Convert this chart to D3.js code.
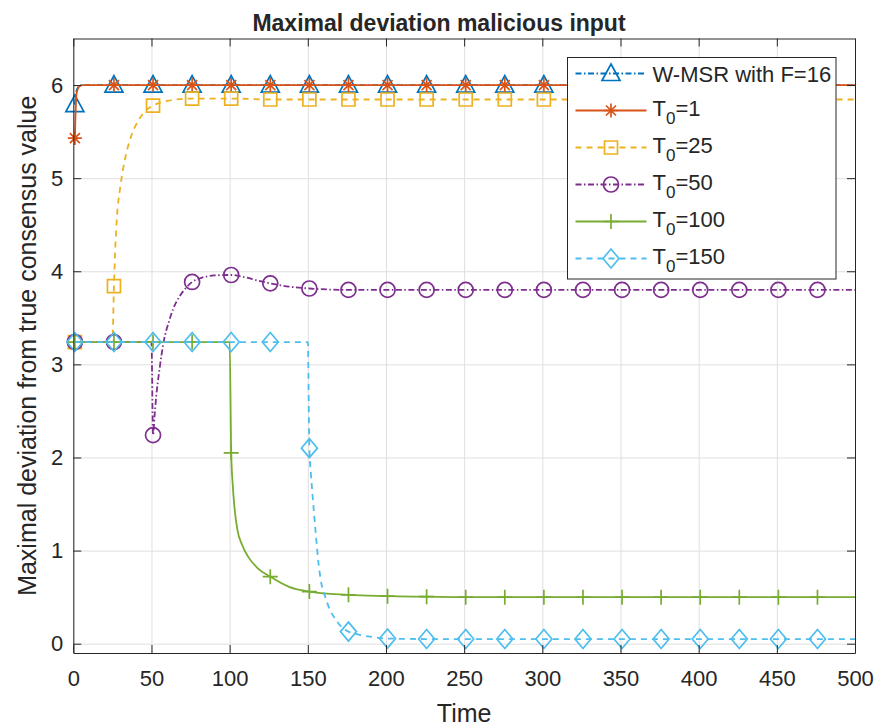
<!DOCTYPE html>
<html>
<head>
<meta charset="utf-8">
<script src="https://cdn.jsdelivr.net/npm/d3@7"></script>
<style>
  body { margin: 0; background: #fff; }
  text { font-family: "Liberation Sans", Arial, Helvetica, sans-serif; fill: #262626; }
</style>
</head>
<body>
<div id="chart"></div>
<script>
const W = 877, H = 726;
const margin = { top: 38.5, right: 22, bottom: 73, left: 73.3 };
const width = W - margin.left - margin.right,
  height = H - margin.top - margin.bottom;

// data: [time, value]
const markerTimes = [1, 26, 51, 76, 101, 126, 151, 176, 201, 226, 251, 276, 301, 326, 351, 376, 401, 426, 451, 476];
const xTicks = [0, 50, 100, 150, 200, 250, 300, 350, 400, 450, 500];
const yTicks = [0, 1, 2, 3, 4, 5, 6];

const wmsr = [[1, 5.79], [2, 5.93], [3, 5.975], [5, 6.0], [26, 6.0], [51, 6.0], [76, 6.0], [101, 6.0], [126, 6.0], [151, 6.0], [176, 6.0], [201, 6.0], [226, 6.0], [251, 6.0], [276, 6.0], [301, 6.0], [326, 6.0], [351, 6.0], [376, 6.0], [401, 6.0], [426, 6.0], [451, 6.0], [476, 6.0], [500, 6.0]];
const t0_1 = [[1, 5.43], [2, 5.9], [3, 5.96], [4, 5.985], [6, 6.0], [26, 6.0], [51, 6.0], [76, 6.0], [101, 6.0], [126, 6.0], [151, 6.0], [176, 6.0], [201, 6.0], [226, 6.0], [251, 6.0], [276, 6.0], [301, 6.0], [326, 6.0], [351, 6.0], [376, 6.0], [401, 6.0], [426, 6.0], [451, 6.0], [476, 6.0], [500, 6.0]];
const t0_25 = [[1, 3.24], [25, 3.24], [26, 3.84], [27, 4.3], [28, 4.6], [30, 4.9], [33, 5.2], [37, 5.45], [42, 5.63], [46, 5.72], [51, 5.78], [60, 5.83], [76, 5.855], [101, 5.855], [126, 5.845], [151, 5.845], [176, 5.845], [201, 5.845], [226, 5.845], [251, 5.845], [276, 5.845], [301, 5.845], [326, 5.845], [351, 5.845], [376, 5.845], [401, 5.845], [426, 5.845], [451, 5.845], [476, 5.845], [500, 5.845]];
const t0_50 = [[1, 3.24], [26, 3.24], [50, 3.24], [51, 2.24], [52, 2.45], [53, 2.65], [55, 2.93], [58, 3.26], [61, 3.45], [64, 3.6], [68, 3.73], [72, 3.82], [76, 3.885], [82, 3.93], [90, 3.955], [101, 3.96], [110, 3.935], [118, 3.9], [126, 3.87], [138, 3.835], [151, 3.815], [176, 3.8], [201, 3.8], [226, 3.8], [251, 3.8], [276, 3.8], [301, 3.8], [326, 3.8], [351, 3.8], [376, 3.8], [401, 3.8], [426, 3.8], [451, 3.8], [476, 3.8], [500, 3.8]];
const t0_100 = [[1, 3.24], [26, 3.24], [51, 3.24], [76, 3.24], [100, 3.24], [101, 2.05], [102, 1.7], [103, 1.48], [105, 1.22], [108, 1.06], [112, 0.93], [118, 0.81], [126, 0.72], [138, 0.61], [151, 0.56], [165, 0.535], [176, 0.525], [201, 0.51], [226, 0.505], [251, 0.5], [276, 0.5], [301, 0.5], [326, 0.5], [351, 0.5], [376, 0.5], [401, 0.5], [426, 0.5], [451, 0.5], [476, 0.5], [500, 0.5]];
const t0_150 = [[1, 3.24], [26, 3.24], [51, 3.24], [76, 3.24], [101, 3.24], [126, 3.24], [150, 3.24], [151, 2.1], [152, 1.82], [153, 1.6], [155, 1.2], [157, 0.84], [159, 0.62], [161, 0.51], [164, 0.37], [167, 0.28], [171, 0.19], [176, 0.13], [182, 0.1], [190, 0.075], [201, 0.055], [226, 0.05], [251, 0.05], [276, 0.05], [301, 0.05], [326, 0.05], [351, 0.05], [376, 0.05], [401, 0.05], [426, 0.05], [451, 0.05], [476, 0.05], [500, 0.05]];

const series = [
  { name: "W-MSR with F=16", data: wmsr, color: "#0072BD", dash: "6,2.5,1.5,2.5", marker: "triangle" },
  { name: "1", data: t0_1, color: "#D95319", dash: null, marker: "asterisk" },
  { name: "25", data: t0_25, color: "#EDB120", dash: "6,5", marker: "square" },
  { name: "50", data: t0_50, color: "#7E2F8E", dash: "6,2.5,1.5,2.5", marker: "circle" },
  { name: "100", data: t0_100, color: "#77AC30", dash: null, marker: "plus" },
  { name: "150", data: t0_150, color: "#4DBEEE", dash: "6,5", marker: "diamond" }
];

const svg = d3.select("#chart").append("svg")
  .attr("width", W).attr("height", H);

const g = svg.append("g")
  .attr("transform", `translate(${margin.left}, ${margin.top})`);

const x = d3.scaleLinear().domain([0, 500]).range([0, width]);
const y = d3.scaleLinear().domain([-0.1, 6.5]).range([height, 0]);

// grid
g.append("g")
  .attr("transform", `translate(0, ${height})`)
  .call(d3.axisBottom(x).tickValues(xTicks).tickSize(-height).tickFormat(""))
  .call((s) => s.select(".domain").remove())
  .selectAll("line").attr("stroke", "#dfdfdf");
g.append("g")
  .call(d3.axisLeft(y).tickValues(yTicks).tickSize(-width).tickFormat(""))
  .call((s) => s.select(".domain").remove())
  .selectAll("line").attr("stroke", "#dfdfdf");

// marker paths
const markerPath = (type) => {
  switch (type) {
    case "triangle": return "M0,-9.5L9,7L-9,7Z";
    case "square": return "M-6.5,-6.5H6.5V6.5H-6.5Z";
    case "circle": return "M7.5,0A7.5,7.5 0 1,1 -7.5,0A7.5,7.5 0 1,1 7.5,0Z";
    case "diamond": return "M0,-9.5L8,0L0,9.5L-8,0Z";
    case "plus": return "M-7.5,0H7.5M0,-7.5V7.5";
    case "asterisk": return "M-7,0H7M0,-7V7M-5,-5L5,5M-5,5L5,-5";
  }
};

const line = d3.line()
  .x((d) => x(d[0]))
  .y((d) => y(d[1]))
  .curve(d3.curveMonotoneX);

svg.append("clipPath").attr("id", "clip")
  .append("rect").attr("width", width).attr("height", height);

const plot = g.append("g");
series.forEach((s) => {
  plot.append("path")
    .datum(s.data)
    .attr("clip-path", "url(#clip)")
    .attr("fill", "none")
    .attr("stroke", s.color)
    .attr("stroke-width", 1.8)
    .attr("stroke-dasharray", s.dash)
    .attr("d", line);
  const pts = markerTimes.map((t) => s.data.find((d) => d[0] === t));
  plot.append("g")
    .selectAll("path")
    .data(pts)
    .join("path")
    .attr("transform", (d) => `translate(${x(d[0])}, ${y(d[1])})`)
    .attr("d", markerPath(s.marker))
    .attr("fill", "none")
    .attr("stroke", s.color)
    .attr("stroke-width", 1.7);
});

// axes (box with inside ticks)
const axisStyle = (s) => {
  s.select(".domain").attr("stroke", "#262626");
  s.selectAll(".tick line").attr("stroke", "#262626");
  s.selectAll("text").style("font-size", "22px").attr("fill", "#262626");
};
g.append("g")
  .attr("transform", `translate(0, ${height})`)
  .call(d3.axisBottom(x).tickValues(xTicks).tickSizeInner(-8).tickSizeOuter(0).tickPadding(17))
  .call(axisStyle);
g.append("g")
  .call(d3.axisTop(x).tickValues(xTicks).tickSizeInner(-8).tickSizeOuter(0).tickFormat(""))
  .call(axisStyle);
g.append("g")
  .call(d3.axisLeft(y).tickValues(yTicks).tickFormat(d3.format("d")).tickSizeInner(-8).tickSizeOuter(0).tickPadding(10))
  .call(axisStyle);
g.append("g")
  .attr("transform", `translate(${width}, 0)`)
  .call(d3.axisRight(y).tickValues(yTicks).tickSizeInner(-8).tickSizeOuter(0).tickFormat(""))
  .call(axisStyle);
g.selectAll(".domain").attr("fill", "none");

// titles
svg.append("text")
  .attr("x", 439).attr("y", 31)
  .attr("text-anchor", "middle")
  .style("font-size", "23px").style("font-weight", "bold")
  .attr("fill", "#000")
  .text("Maximal deviation malicious input");
svg.append("text")
  .attr("x", margin.left + width / 2).attr("y", 722)
  .attr("text-anchor", "middle")
  .style("font-size", "25px")
  .text("Time");
svg.append("text")
  .attr("transform", `translate(36, ${margin.top + height / 2}) rotate(-90)`)
  .attr("text-anchor", "middle")
  .style("font-size", "25px")
  .text("Maximal deviation from true consensus value");

// legend
const leg = svg.append("g").attr("transform", "translate(567.5, 57.5)");
leg.append("rect")
  .attr("width", 268.5).attr("height", 221.5)
  .attr("fill", "#fff").attr("stroke", "#262626").attr("stroke-width", 1);
series.forEach((s, i) => {
  const ly = 16 + i * 37;
  const row = leg.append("g").attr("transform", `translate(0, ${ly})`);
  row.append("line")
    .attr("x1", 8).attr("x2", 79)
    .attr("stroke", s.color).attr("stroke-width", 1.8)
    .attr("stroke-dasharray", s.dash);
  row.append("path")
    .attr("transform", "translate(43.5, 0)")
    .attr("d", markerPath(s.marker))
    .attr("fill", "none").attr("stroke", s.color).attr("stroke-width", 1.7);
  const t = row.append("text").attr("x", 85).style("font-size", "22px").attr("fill", "#000");
  if (i === 0) {
    t.attr("y", 8).text(s.name);
  } else {
    t.attr("y", 5);
    t.append("tspan").text("T");
    t.append("tspan").attr("dy", 8).style("font-size", "17px").text("0");
    t.append("tspan").attr("dy", -8).text("=" + s.name);
  }
});
</script>
</body>
</html>
